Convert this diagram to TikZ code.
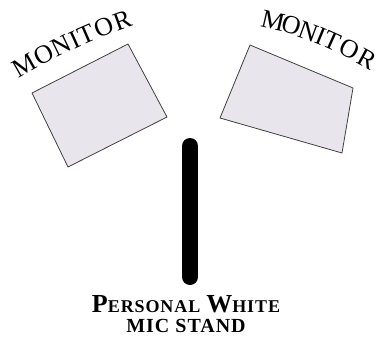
\documentclass[tikz,border=0pt]{standalone}
\usepackage{fontspec}
\setmainfont{Liberation Serif}
\newcommand{\monfont}{\fontsize{26}{26}\selectfont}
\newcommand{\capbig}{\fontsize{26}{26}\selectfont}
\newcommand{\capsmall}{\fontsize{18}{18}\selectfont}
\newcommand{\captwo}{\fontsize{20}{20}\selectfont}
\begin{document}
\begin{tikzpicture}[x=1pt,y=-1pt,
  monitorbox/.style={draw=black!75,fill={rgb,255:red,232;green,230;blue,236},line width=0.8pt,line join=round},
  monletter/.style={font=\monfont,inner sep=0pt,sloped,anchor=base},
  caplabel/.style={font=\bfseries\addfontfeatures{LetterSpace=5},inner sep=0pt,anchor=base}]
\useasboundingbox (0,0) rectangle (380,340);
% left monitor
\draw[monitorbox] (32,93) -- (128,44) -- (167,117) -- (68,167) -- cycle;
% right monitor
\draw[monitorbox] (250,45) -- (353,88) -- (342,153) -- (220,118) -- cycle;
% labels
\coordinate (lts) at (18,79);
\coordinate (lte) at (134,25);
\coordinate (rts) at (262,27);
\coordinate (rte) at (372,71);
\path (lts) .. controls (54,57.7) and (92.7,39.7) .. (lte)
  foreach \l/\p [count=\i] in {M/.095,O/.268,N/.423,I/.536,T/.637,O/.780,R/.929}
  {node[monletter,pos=\p] (ml\i) {\l}};
\path (rts) .. controls (294,33) and (330.7,47.7) .. (rte)
  foreach \l/\p [count=\i] in {M/.095,O/.268,N/.423,I/.536,T/.637,O/.780,R/.929}
  {node[monletter,pos=\p] (mr\i) {\l}};
% mic stand
\coordinate (mtop) at (190,146);
\coordinate (mbot) at (190,277);
\draw[line width=16pt,line cap=round] (mtop) -- (mbot);
\node[caplabel] (l1) at (186,312) {{\capbig P}{\capsmall ERSONAL}\hspace{3pt} {\capbig W}{\capsmall HITE}};
\node[caplabel] (l2) at (186,332) {{\captwo MIC}\hspace{3pt} {\captwo STAND}};
\end{tikzpicture}
\end{document}
